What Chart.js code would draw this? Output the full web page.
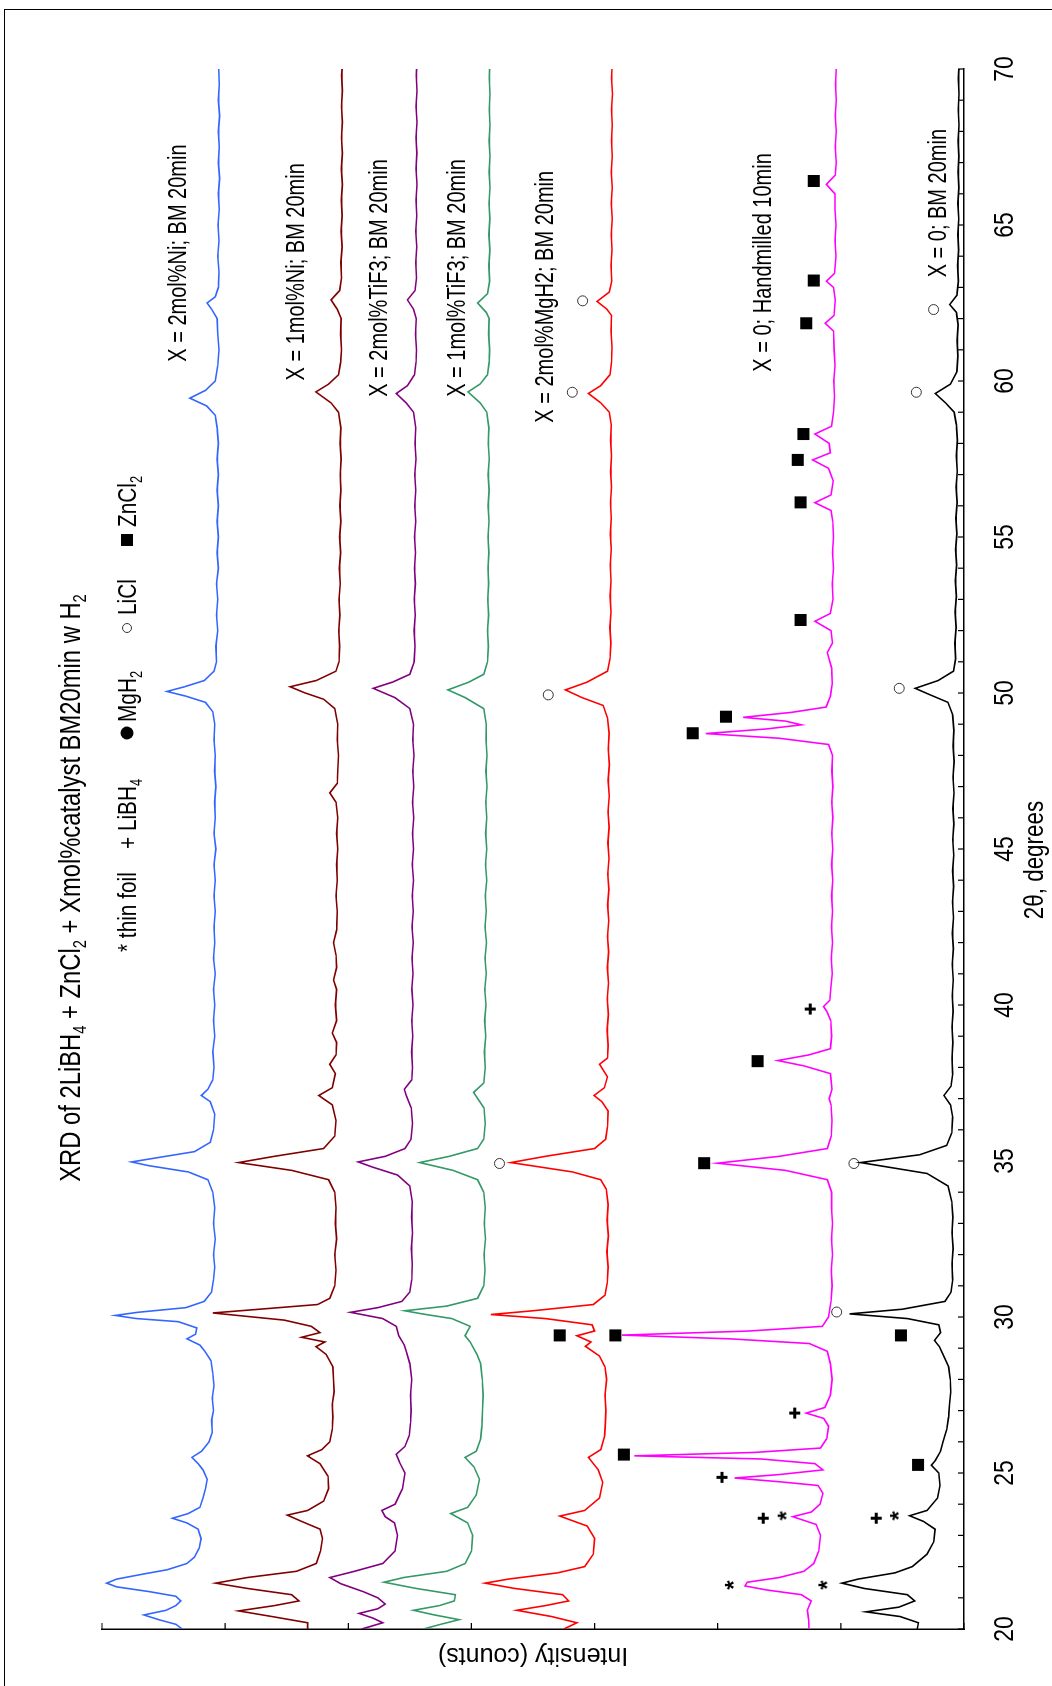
<!DOCTYPE html>
<html lang="en">
<head>
<meta charset="UTF-8">
<title>XRD of 2LiBH4 + ZnCl2 + Xmol%catalyst BM20min w H2</title>
<script src="https://cdn.jsdelivr.net/npm/chart.js"></script>
<style>
html, body { margin: 0; padding: 0; background: #fff; overflow: hidden; }
body { width: 1052px; height: 1686px; position: relative; }
#frame { position: absolute; left: 4px; top: 9px; width: 1100px; height: 1720px; border: 1.5px solid #000; }
#turn { position: absolute; left: 0; top: 0; width: 1686px; height: 1052px; transform-origin: 0 0; transform: translateY(1686px) rotate(-90deg); }
</style>
</head>
<body>
<div id="frame"></div>
<div id="turn"><canvas id="xrd" width="1686" height="1052"></canvas></div>

<script>
// 2theta (degrees), intensity (counts)
const ni2Pts = [[20.0,6350],[20.15,6400],[20.3,6540],[20.45,6660],[20.6,6480],[20.75,6400],[20.9,6360],[21.05,6400],[21.2,6620],[21.35,6880],[21.47,6962],[21.6,6880],[21.75,6680],[21.9,6470],[22.1,6310],[22.3,6250],[22.6,6210],[22.9,6195],[23.2,6220],[23.4,6310],[23.55,6427],[23.7,6300],[23.9,6205],[24.2,6180],[24.5,6160],[24.8,6145],[25.1,6180],[25.3,6220],[25.5,6270],[25.7,6190],[26.0,6130],[26.3,6105],[26.7,6110],[27.0,6095],[27.4,6105],[27.8,6090],[28.2,6100],[28.6,6115],[28.9,6165],[29.1,6205],[29.3,6310],[29.45,6240],[29.65,6230],[29.85,6380],[29.95,6720],[30.05,6892],[30.15,6710],[30.3,6320],[30.5,6170],[30.8,6110],[31.2,6095],[31.6,6085],[32.0,6095],[32.5,6080],[33.0,6095],[33.5,6085],[34.0,6100],[34.4,6140],[34.65,6300],[34.85,6620],[34.97,6760],[35.1,6560],[35.3,6250],[35.6,6120],[36.0,6095],[36.5,6085],[36.9,6120],[37.1,6193],[37.3,6140],[37.6,6100],[38.0,6090],[38.5,6100],[39.0,6085],[39.5,6095],[40.0,6085],[40.5,6095],[41.0,6080],[41.5,6095],[42.0,6085],[42.5,6090],[43.0,6080],[43.5,6090],[44.0,6080],[44.5,6090],[45.0,6075],[45.5,6090],[46.0,6080],[46.5,6085],[47.0,6075],[47.5,6085],[48.0,6080],[48.5,6090],[49.0,6085],[49.4,6100],[49.7,6160],[49.9,6320],[50.05,6473],[50.2,6330],[50.4,6170],[50.7,6090],[51.0,6070],[51.5,6075],[52.0,6060],[52.5,6070],[53.0,6060],[53.5,6070],[54.0,6055],[54.5,6065],[55.0,6055],[55.5,6065],[56.0,6055],[56.5,6065],[57.0,6055],[57.5,6065],[58.0,6055],[58.5,6065],[58.9,6080],[59.2,6150],[59.45,6287],[59.7,6160],[60.0,6080],[60.5,6060],[61.0,6050],[61.5,6060],[62.0,6065],[62.3,6110],[62.5,6147],[62.7,6080],[63.0,6055],[63.5,6050],[64.0,6060],[64.5,6050],[65.0,6058],[65.5,6048],[66.0,6055],[66.5,6045],[67.0,6055],[67.5,6048],[68.0,6055],[68.5,6045],[69.0,6055],[69.5,6048],[70.0,6052]];

const ni1Pts = [[20.0,5330],[20.2,5330],[20.4,5620],[20.58,5891],[20.75,5600],[20.9,5400],[21.1,5460],[21.3,5820],[21.47,6077],[21.65,5820],[21.85,5420],[22.1,5260],[22.5,5225],[22.9,5210],[23.2,5230],[23.45,5380],[23.65,5495],[23.8,5330],[24.1,5200],[24.5,5160],[24.9,5165],[25.3,5230],[25.55,5332],[25.75,5215],[26.0,5150],[26.4,5130],[26.8,5125],[27.2,5130],[27.6,5115],[28.0,5120],[28.4,5125],[28.8,5180],[29.05,5262],[29.2,5190],[29.35,5379],[29.5,5230],[29.7,5300],[29.9,5520],[30.05,5900],[30.13,6100],[30.25,5720],[30.4,5250],[30.6,5150],[31.0,5110],[31.5,5100],[32.0,5110],[32.5,5095],[33.0,5105],[33.5,5100],[34.0,5110],[34.4,5160],[34.7,5460],[34.95,5891],[35.15,5600],[35.4,5200],[35.8,5110],[36.3,5100],[36.8,5130],[37.1,5239],[37.35,5130],[37.8,5105],[38.1,5150],[38.4,5100],[38.8,5095],[39.1,5130],[39.5,5095],[40.0,5105],[40.5,5095],[40.8,5120],[41.2,5095],[41.6,5100],[42.0,5120],[42.4,5095],[43.0,5090],[43.5,5100],[44.0,5090],[44.5,5095],[45.0,5085],[45.5,5095],[46.0,5085],[46.5,5100],[46.8,5150],[47.1,5090],[47.5,5085],[48.0,5080],[48.5,5090],[49.0,5085],[49.5,5110],[49.8,5200],[50.0,5350],[50.2,5472],[50.4,5260],[50.7,5100],[51.0,5075],[51.5,5070],[52.0,5078],[52.5,5068],[53.0,5075],[53.5,5065],[54.0,5072],[54.5,5062],[55.0,5070],[55.5,5060],[56.0,5068],[56.5,5060],[57.0,5065],[57.5,5058],[58.0,5066],[58.5,5060],[59.0,5080],[59.3,5140],[59.65,5263],[59.9,5160],[60.2,5080],[60.6,5062],[61.0,5055],[61.5,5062],[62.0,5058],[62.3,5090],[62.6,5140],[62.9,5070],[63.3,5055],[63.8,5060],[64.3,5050],[64.8,5058],[65.3,5050],[65.8,5056],[66.3,5048],[66.8,5056],[67.3,5048],[67.8,5055],[68.3,5048],[68.8,5055],[69.3,5048],[69.8,5054],[70.0,5050]];

const tif2Pts = [[20.0,4890],[20.2,4720],[20.35,4800],[20.5,4913],[20.65,4760],[20.8,4700],[21.0,4760],[21.2,4880],[21.45,5060],[21.65,5150],[21.85,4950],[22.1,4720],[22.5,4620],[23.0,4600],[23.4,4625],[23.6,4700],[23.8,4727],[24.0,4620],[24.5,4560],[25.0,4540],[25.35,4585],[25.6,4610],[25.85,4540],[26.2,4505],[26.6,4495],[27.0,4490],[27.5,4495],[28.0,4485],[28.5,4500],[28.9,4530],[29.1,4545],[29.4,4590],[29.7,4610],[29.95,4720],[30.15,4983],[30.3,4760],[30.5,4565],[30.8,4500],[31.2,4485],[31.7,4480],[32.2,4488],[32.7,4478],[33.2,4486],[33.7,4480],[34.2,4500],[34.55,4600],[34.8,4800],[34.97,4920],[35.15,4700],[35.4,4540],[35.7,4490],[36.2,4478],[36.7,4488],[37.1,4530],[37.3,4545],[37.6,4485],[38.0,4478],[38.5,4486],[39.0,4476],[39.5,4485],[40.0,4475],[40.5,4484],[41.0,4474],[41.5,4483],[42.0,4473],[42.5,4482],[43.0,4472],[43.5,4480],[44.0,4470],[44.5,4480],[45.0,4470],[45.5,4478],[46.0,4468],[46.5,4478],[47.0,4468],[47.5,4476],[48.0,4466],[48.5,4476],[49.0,4470],[49.5,4500],[49.85,4620],[50.15,4797],[50.35,4640],[50.6,4500],[51.0,4465],[51.5,4458],[52.0,4465],[52.5,4456],[53.0,4464],[53.5,4455],[54.0,4462],[54.5,4454],[55.0,4462],[55.5,4452],[56.0,4460],[56.5,4452],[57.0,4460],[57.5,4450],[58.0,4458],[58.5,4452],[59.0,4470],[59.3,4530],[59.6,4610],[59.85,4520],[60.2,4462],[60.6,4450],[61.0,4446],[61.5,4454],[62.0,4448],[62.3,4470],[62.6,4520],[62.9,4458],[63.3,4446],[63.8,4452],[64.3,4444],[64.8,4452],[65.3,4444],[65.8,4450],[66.3,4442],[66.8,4450],[67.3,4443],[67.8,4450],[68.3,4442],[68.8,4450],[69.3,4442],[69.8,4448],[70.0,4445]];

const tif1Pts = [[20.0,4390],[20.15,4250],[20.3,4100],[20.45,4300],[20.6,4470],[20.75,4260],[20.9,4140],[21.1,4130],[21.3,4450],[21.5,4710],[21.65,4550],[21.85,4200],[22.1,4050],[22.5,4000],[23.0,3990],[23.4,4030],[23.7,4168],[23.9,4030],[24.3,3960],[24.8,3935],[25.2,3980],[25.5,4052],[25.7,3960],[26.1,3925],[26.5,3915],[27.0,3910],[27.5,3905],[28.0,3912],[28.5,3925],[28.8,3955],[29.2,4010],[29.4,4052],[29.7,4010],[29.95,4160],[30.1,4400],[30.2,4541],[30.35,4200],[30.6,3950],[31.0,3900],[31.5,3890],[32.0,3898],[32.5,3886],[33.0,3896],[33.5,3888],[34.0,3900],[34.4,3950],[34.7,4150],[34.95,4420],[35.15,4180],[35.4,3950],[35.7,3900],[36.2,3888],[36.7,3898],[37.2,3982],[37.5,3900],[38.0,3888],[38.5,3895],[39.0,3884],[39.5,3893],[40.0,3882],[40.5,3892],[41.0,3880],[41.5,3890],[42.0,3878],[42.5,3890],[43.0,3880],[43.5,3888],[44.0,3876],[44.5,3886],[45.0,3876],[45.5,3885],[46.0,3875],[46.5,3884],[47.0,3874],[47.5,3883],[48.0,3874],[48.5,3882],[49.0,3880],[49.5,3900],[49.85,4050],[50.1,4191],[50.35,4020],[50.6,3900],[51.0,3870],[51.5,3862],[52.0,3870],[52.5,3860],[53.0,3868],[53.5,3860],[54.0,3866],[54.5,3858],[55.0,3866],[55.5,3857],[56.0,3864],[56.5,3856],[57.0,3864],[57.5,3855],[58.0,3863],[58.5,3858],[59.0,3875],[59.3,3930],[59.65,4028],[59.9,3930],[60.2,3870],[60.6,3856],[61.0,3852],[61.5,3860],[62.0,3856],[62.2,3880],[62.5,3950],[62.8,3870],[63.2,3852],[63.7,3858],[64.2,3850],[64.7,3858],[65.2,3850],[65.7,3857],[66.2,3849],[66.7,3856],[67.2,3849],[67.7,3856],[68.2,3849],[68.7,3855],[69.2,3849],[69.7,3855],[70.0,3852]];

const mgh2Pts = [[20.0,3250],[20.2,3144],[20.4,3350],[20.6,3632],[20.75,3400],[20.9,3210],[21.1,3260],[21.3,3650],[21.47,3889],[21.6,3700],[21.8,3300],[22.0,3080],[22.4,3010],[22.9,3000],[23.3,3060],[23.5,3200],[23.62,3283],[23.8,3080],[24.2,2960],[24.7,2934],[25.1,2970],[25.5,3050],[25.75,2950],[26.2,2918],[26.6,2912],[27.0,2908],[27.5,2915],[28.0,2902],[28.4,2915],[28.75,2960],[29.06,3074],[29.2,3030],[29.4,3143],[29.55,3000],[29.75,3020],[29.95,3400],[30.08,3842],[30.2,3500],[30.4,3010],[30.7,2915],[31.1,2897],[31.6,2890],[32.1,2900],[32.6,2888],[33.1,2898],[33.6,2890],[34.1,2905],[34.4,2950],[34.65,3180],[34.95,3679],[35.15,3400],[35.4,3000],[35.7,2910],[36.1,2895],[36.6,2890],[36.9,2940],[37.1,3004],[37.35,2920],[37.7,2895],[38.1,2960],[38.3,2895],[38.7,2890],[39.2,2898],[39.7,2888],[40.2,2897],[40.7,2887],[41.2,2896],[41.7,2886],[42.2,2895],[42.7,2885],[43.2,2894],[43.7,2884],[44.2,2893],[44.7,2883],[45.2,2892],[45.7,2882],[46.2,2891],[46.7,2881],[47.2,2890],[47.7,2880],[48.2,2889],[48.7,2882],[49.2,2895],[49.6,2930],[49.85,3100],[50.1,3237],[50.35,3060],[50.7,2895],[51.1,2875],[51.6,2868],[52.1,2876],[52.6,2866],[53.1,2874],[53.6,2866],[54.1,2873],[54.6,2864],[55.1,2872],[55.6,2864],[56.1,2871],[56.6,2862],[57.1,2870],[57.6,2862],[58.1,2870],[58.6,2865],[59.0,2880],[59.3,2950],[59.6,3050],[59.85,2950],[60.2,2875],[60.6,2862],[61.1,2858],[61.6,2866],[62.1,2862],[62.3,2900],[62.55,2980],[62.85,2880],[63.2,2860],[63.7,2866],[64.2,2858],[64.7,2865],[65.2,2857],[65.7,2864],[66.2,2856],[66.7,2864],[67.2,2856],[67.7,2863],[68.2,2856],[68.7,2862],[69.2,2855],[69.7,2862],[70.0,2858]];

const handPts = [[20.0,1259],[20.3,1262],[20.6,1272],[20.9,1240],[21.1,1320],[21.25,1600],[21.38,1779],[21.5,1760],[21.65,1500],[21.85,1300],[22.1,1220],[22.5,1180],[23.0,1165],[23.35,1200],[23.6,1390],[23.75,1240],[24.0,1170],[24.35,1145],[24.6,1185],[24.72,1500],[24.84,1863],[24.95,1500],[25.1,1145],[25.3,1210],[25.45,1650],[25.55,2678],[25.66,1700],[25.8,1165],[26.1,1115],[26.5,1100],[26.75,1140],[26.92,1281],[27.1,1130],[27.5,1085],[28.0,1071],[28.5,1085],[28.9,1110],[29.15,1257],[29.3,1900],[29.42,2778],[29.55,1750],[29.7,1150],[30.0,1100],[30.5,1080],[31.0,1071],[31.5,1078],[32.0,1068],[32.5,1076],[33.0,1068],[33.5,1076],[34.0,1075],[34.4,1110],[34.7,1450],[34.93,2002],[35.15,1500],[35.4,1110],[35.8,1078],[36.3,1072],[36.8,1080],[37.0,1095],[37.3,1072],[37.8,1085],[38.05,1300],[38.22,1513],[38.4,1260],[38.6,1085],[39.0,1075],[39.5,1082],[39.8,1115],[39.95,1141],[40.15,1090],[40.6,1080],[41.0,1070],[41.5,1078],[42.0,1068],[42.5,1076],[43.0,1068],[43.5,1075],[44.0,1066],[44.5,1075],[45.0,1066],[45.5,1074],[46.0,1065],[46.5,1074],[47.0,1065],[47.5,1073],[48.0,1068],[48.35,1100],[48.55,1500],[48.7,2096],[48.85,1600],[48.98,1320],[49.1,1450],[49.22,1793],[49.38,1400],[49.55,1120],[49.9,1085],[50.3,1070],[50.8,1075],[51.3,1110],[51.6,1068],[52.0,1080],[52.3,1211],[52.55,1085],[53.0,1064],[53.5,1070],[54.0,1060],[54.5,1068],[55.0,1060],[55.5,1066],[55.85,1080],[56.1,1211],[56.35,1080],[56.8,1062],[57.2,1100],[57.47,1230],[57.7,1085],[58.0,1095],[58.3,1211],[58.55,1075],[59.0,1060],[59.5,1052],[60.0,1058],[60.5,1048],[61.0,1055],[61.6,1060],[61.85,1127],[62.1,1055],[62.6,1045],[63.0,1060],[63.2,1118],[63.45,1052],[64.0,1040],[64.5,1048],[65.0,1040],[65.5,1047],[66.0,1048],[66.3,1118],[66.6,1045],[67.0,1038],[67.5,1046],[68.0,1037],[68.5,1045],[69.0,1037],[69.5,1044],[70.0,1038]];

const bm0Pts = [[20.0,380],[20.2,370],[20.4,520],[20.55,796],[20.7,530],[20.9,400],[21.1,460],[21.3,810],[21.47,991],[21.6,860],[21.8,560],[22.0,420],[22.4,300],[22.8,245],[23.2,235],[23.45,330],[23.63,442],[23.8,300],[24.2,215],[24.6,195],[25.0,205],[25.25,265],[25.4,233],[25.7,190],[26.0,170],[26.4,140],[26.8,125],[27.2,118],[27.6,108],[28.0,112],[28.4,125],[28.8,170],[29.05,200],[29.25,240],[29.5,190],[29.75,205],[29.95,460],[30.1,930],[30.25,500],[30.5,155],[30.8,105],[31.2,92],[31.7,98],[32.2,88],[32.7,98],[33.2,90],[33.7,100],[34.2,130],[34.6,300],[34.95,840],[35.2,360],[35.5,140],[35.9,100],[36.4,92],[36.8,110],[37.1,163],[37.4,105],[37.8,92],[38.3,98],[38.8,90],[39.3,97],[39.8,88],[40.3,96],[40.8,87],[41.3,95],[41.8,86],[42.3,94],[42.8,85],[43.3,93],[43.8,84],[44.3,92],[44.8,83],[45.3,91],[45.8,82],[46.3,90],[46.8,81],[47.3,89],[47.8,80],[48.3,88],[48.8,82],[49.3,92],[49.7,130],[49.95,280],[50.15,396],[50.4,210],[50.7,85],[51.1,68],[51.6,74],[52.1,64],[52.6,72],[53.1,62],[53.6,70],[54.1,60],[54.6,68],[55.1,58],[55.6,66],[56.1,56],[56.6,64],[57.1,55],[57.6,62],[58.1,54],[58.6,62],[59.0,80],[59.3,150],[59.6,233],[59.9,110],[60.3,58],[60.8,50],[61.3,56],[61.8,48],[62.2,62],[62.45,116],[62.75,58],[63.2,46],[63.7,52],[64.2,44],[64.7,50],[65.2,43],[65.7,50],[66.2,42],[66.7,48],[67.2,42],[67.7,48],[68.2,41],[68.7,47],[69.2,41],[69.7,46],[70.0,42]];

const seriesNames = ['X = 2mol%Ni; BM 20min', 'X = 1mol%Ni; BM 20min', 'X = 2mol%TiF3; BM 20min', 'X = 1mol%TiF3; BM 20min', 'X = 2mol%MgH2; BM 20min', 'X = 0; Handmilled 10min', 'X = 0; BM 20min'];
const seriesPts = [ni2Pts, ni1Pts, tif2Pts, tif1Pts, mgh2Pts, handPts, bm0Pts];
const seriesColors = ['#3366ff', '#800000', '#800080', '#339966', '#ff0000', '#ff00ff', '#000000'];
const labelAt2Theta = [64.1, 63.5, 63.3, 63.3, 62.7, 63.8, 65.7];
const labelAtCounts = [6390, 5435, 4760, 4127, 3412, 1641, 219];

// phase markers
const zncl2Marks = [[25.59,2762],[29.41,2831],[34.93,2110],[38.2,1676],[48.71,2203],[49.24,1933],[52.34,1327],[56.11,1327],[57.47,1350],[58.3,1304],[61.85,1281],[63.22,1220],[66.41,1220],[29.41,3283],[29.41,512],[25.26,373]];
const liclMarks = [[34.92,3772],[49.94,3376],[59.64,3181],[62.57,3097],[34.92,894],[30.16,1034],[50.15,526],[59.64,387],[62.29,247]];
const libh4Marks = [[26.92,1374],[24.86,1965],[23.55,1630],[39.87,1248],[23.55,713]];
const foilMarks = [[23.63,1481],[21.41,1909],[23.63,568],[21.41,1150]];

const xTicks = { min: 20, max: 70, step: 1, labelEvery: 5 };
const yTicks = { min: 0, max: 7000, step: 1000 };

const FONT = '"Liberation Sans", Arial, sans-serif';

function rich(ctx, parts, x, y, size, k, align) {
    ctx.save();
    ctx.translate(x, y);
    ctx.scale(k, 1);
    ctx.textAlign = 'left';
    ctx.textBaseline = 'alphabetic';
    ctx.fillStyle = '#000';
    const fontOf = sub => (sub ? Math.round(size * 0.62) : size) + 'px ' + FONT;
    let w = 0;
    parts.forEach(p => { ctx.font = fontOf(p[1]); w += ctx.measureText(p[0]).width; });
    let cx = align === 'center' ? -w / 2 : 0;
    const base = size * 0.36;
    parts.forEach(p => {
        ctx.font = fontOf(p[1]);
        ctx.fillText(p[0], cx, p[1] ? base + size * 0.2 : base);
        cx += ctx.measureText(p[0]).width;
    });
    ctx.restore();
}

// asterisk glyph used as point style
const starImg = document.createElement('canvas');
starImg.width = 16; starImg.height = 16;
(function () {
    const g = starImg.getContext('2d');
    g.font = 'bold 24px ' + FONT;
    g.textAlign = 'center';
    g.fillStyle = '#000';
    g.fillText('*', 8, 21);
})();

const decor = {
    id: 'decor',
    afterDraw(chart) {
        const ctx = chart.ctx;
        const xs = chart.scales.x, ys = chart.scales.y;
        const a = chart.chartArea;

        // inside tick marks
        ctx.save();
        ctx.strokeStyle = '#000';
        ctx.lineWidth = 1.2;
        ctx.beginPath();
        xs.ticks.forEach(t => {
            const px = xs.getPixelForValue(t.value);
            ctx.moveTo(px, a.bottom); ctx.lineTo(px, a.bottom - 6);
        });
        ys.ticks.forEach(t => {
            const py = ys.getPixelForValue(t.value);
            ctx.moveTo(a.left, py); ctx.lineTo(a.left + 6, py);
        });
        ctx.stroke();
        ctx.restore();

        // tick labels
        xs.ticks.forEach(t => {
            if (t.value % xTicks.labelEvery === 0) {
                rich(ctx, [[String(t.value)]], xs.getPixelForValue(t.value), a.bottom + 39, 28, 0.82, 'center');
            }
        });

        // axis titles
        rich(ctx, [['2\u03b8, degrees']], 826, a.bottom + 69, 28, 0.8, 'center');
        ctx.save();
        ctx.translate(29, (a.top + a.bottom) / 2);
        ctx.rotate(-Math.PI / 2);
        rich(ctx, [['Intensity (counts)']], 0, 0, 25, 1, 'center');
        ctx.restore();

        // title
        rich(ctx, [['XRD of 2LiBH'], ['4', 1], [' + ZnCl'], ['2', 1], [' + Xmol%catalyst BM20min w H'], ['2', 1]], 798, 70, 29, 0.82, 'center');

        // legend
        const ly = 127;
        rich(ctx, [['* thin foil']], 734, ly, 26, 0.8, 'left');
        rich(ctx, [['+ LiBH'], ['4', 1]], 837, ly, 26, 0.8, 'left');
        ctx.save();
        ctx.fillStyle = '#000';
        ctx.beginPath(); ctx.arc(953, ly, 6.5, 0, Math.PI * 2); ctx.fill();
        ctx.strokeStyle = '#333'; ctx.lineWidth = 1;
        ctx.beginPath(); ctx.arc(1058, ly, 4.5, 0, Math.PI * 2); ctx.stroke();
        ctx.fillRect(1140, ly - 6, 12, 12);
        ctx.restore();
        rich(ctx, [['MgH'], ['2', 1]], 964, ly, 26, 0.8, 'left');
        rich(ctx, [['LiCl']], 1071, ly, 26, 0.8, 'left');
        rich(ctx, [['ZnCl'], ['2', 1]], 1159, ly, 26, 0.8, 'left');

        // trace labels
        seriesNames.forEach((n, i) => {
            rich(ctx, [[n]], xs.getPixelForValue(labelAt2Theta[i]), ys.getPixelForValue(labelAtCounts[i]), 25, 0.8, 'center');
        });
    }
};

const toXY = arr => arr.map(p => ({ x: p[0], y: p[1] }));

const datasets = seriesPts.map((pts, i) => ({
    label: seriesNames[i],
    data: toXY(pts),
    showLine: true,
    borderColor: seriesColors[i],
    borderWidth: 1.6,
    pointRadius: 0,
    tension: 0
}));

datasets.push({ label: 'ZnCl2', data: toXY(zncl2Marks), pointStyle: 'rect', pointRadius: 8.5, backgroundColor: '#000', borderWidth: 0 });
datasets.push({ label: 'LiCl', data: toXY(liclMarks), pointStyle: 'circle', pointRadius: 5, backgroundColor: '#fff', borderColor: '#333', borderWidth: 1 });
datasets.push({ label: 'LiBH4', data: toXY(libh4Marks), pointStyle: 'cross', pointRadius: 5.5, borderColor: '#000', borderWidth: 3 });
datasets.push({ label: 'thin foil', data: toXY(foilMarks), pointStyle: starImg, pointRadius: 8 });

new Chart(document.getElementById('xrd'), {
    type: 'scatter',
    data: { datasets: datasets },
    options: {
        responsive: false,
        animation: false,
        events: [],
        layout: { padding: { left: 57, right: 69, top: 102, bottom: 88 } },
        plugins: { legend: { display: false }, tooltip: { enabled: false }, title: { display: false } },
        scales: {
            x: {
                type: 'linear', min: xTicks.min, max: xTicks.max,
                ticks: { stepSize: xTicks.step, display: false },
                grid: { display: false, drawTicks: false },
                border: { display: true, color: '#000', width: 1.5 },
                afterFit: s => { s.height = 0; }
            },
            y: {
                type: 'linear', min: yTicks.min, max: yTicks.max,
                ticks: { stepSize: yTicks.step, display: false },
                grid: { display: false, drawTicks: false },
                border: { display: true, color: '#000', width: 1.5 },
                afterFit: s => { s.width = 0; }
            }
        }
    },
    plugins: [decor]
});
</script>
</body>
</html>
